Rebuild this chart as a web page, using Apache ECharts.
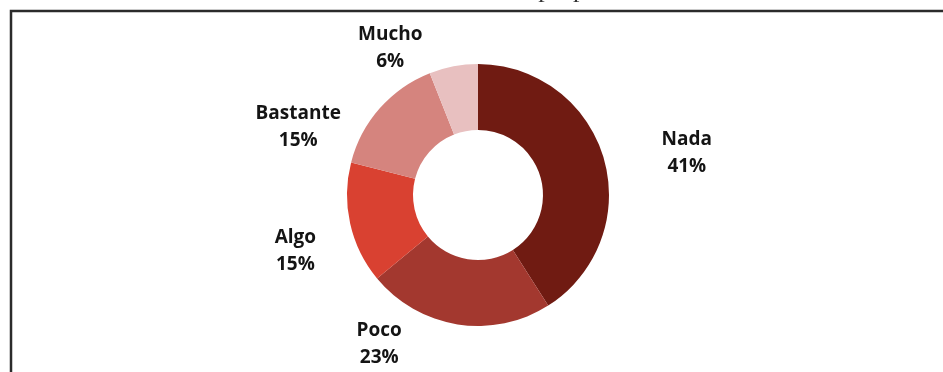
<!DOCTYPE html>
<html>
<head>
<meta charset="utf-8">
<script src="https://cdn.jsdelivr.net/npm/echarts@6/dist/echarts.min.js"></script>
<style>
  html, body { margin: 0; padding: 0; background: #ffffff; }
  #chart { width: 943px; height: 372px; }
</style>
</head>
<body>
<div id="chart"></div>
<script>
// Response categories and their shares (%)
const categories = ['Nada', 'Poco', 'Algo', 'Bastante', 'Mucho'];
const shares = [41, 23, 15, 15, 6];
const titleText = 'Control sobre su propio';

// Slice colours, darkest for "Nada"
const sliceColors = ['#701b12', '#a3382f', '#d94131', '#d5847e', '#e8c0c0'];

// Label anchor: [angle clockwise from 12 o'clock in degrees, distance from centre in px]
const labelPlacement = [[78.6, 213], [213.5, 179], [253, 191], [290.6, 192], [329.1, 171]];

const cx = 478, cy = 195;
const innerR = 65, outerR = 131;

const chart = echarts.init(document.getElementById('chart'), null, { renderer: 'canvas' });

const option = {
  backgroundColor: '#ffffff',
  animation: false,
  graphic: [
    {
      type: 'rect',
      shape: { x: 11, y: 11, width: 1000, height: 420 },
      style: { fill: 'none', stroke: '#2b2b2b', lineWidth: 2.5 },
      z: 10
    },
    {
      type: 'text',
      x: 483, y: 3,
      style: {
        text: titleText,
        font: '26px "Liberation Serif", "Times New Roman", serif',
        fill: '#333333',
        textAlign: 'center',
        textVerticalAlign: 'bottom'
      },
      z: 5
    }
  ],
  series: [{
    type: 'pie',
    center: [cx, cy],
    radius: [innerR, outerR],
    startAngle: 90,
    clockwise: true,
    avoidLabelOverlap: false,
    data: categories.map((name, i) => ({
      name: name,
      value: shares[i],
      itemStyle: { color: sliceColors[i] }
    })),
    itemStyle: { borderWidth: 0 },
    emphasis: { disabled: true },
    labelLine: { show: false },
    label: {
      show: true,
      position: 'outside',
      formatter: '{b}\n{c}%',
      fontFamily: '"Open Sans", Lato, sans-serif',
      fontWeight: 'bold',
      fontSize: 19,
      lineHeight: 27,
      color: '#141414',
      align: 'center'
    },
    labelLayout: function (params) {
      const p = labelPlacement[params.dataIndex];
      const a = p[0] * Math.PI / 180;
      return {
        x: cx + p[1] * Math.sin(a),
        y: cy - p[1] * Math.cos(a),
        align: 'center',
        verticalAlign: 'middle'
      };
    }
  }]
};

chart.setOption(option);
</script>
</body>
</html>
